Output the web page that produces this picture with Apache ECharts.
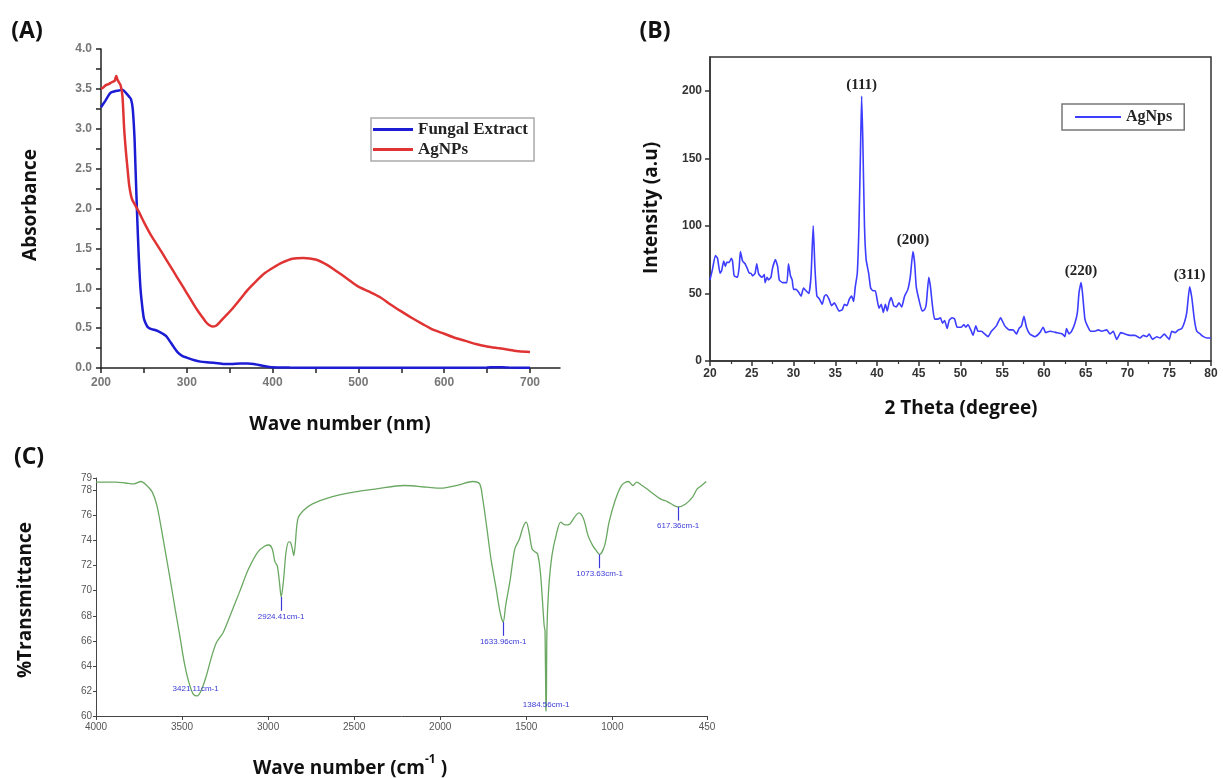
<!DOCTYPE html>
<html><head><meta charset="utf-8">
<script src="https://cdn.jsdelivr.net/npm/echarts@6/dist/echarts.min.js"></script>
<style>html,body{margin:0;padding:0;background:#fff}#c{width:1223px;height:778px}</style>
</head><body><div id="c"></div>
<script>
// ---------- (A) UV-Vis ----------
const uvFungalX = [200,205,211,216,221,225,229,233,235,237,
  239,240,242,244,246,248,250,252,254,258,
  262,267,272,276,280,285,290,295,300,308,
  316,326,336,345,352,362,371,378,383,390,
  399,420,450,500,550,600,650,660,668,675,700];
const uvFungalY = [3.27,3.35,3.45,3.47,3.48,3.49,3.45,3.40,3.37,3.25,
  2.90,2.58,1.95,1.40,1.00,0.78,0.62,0.56,0.52,0.49,
  0.48,0.46,0.43,0.40,0.34,0.26,0.19,0.15,0.13,0.10,
  0.08,0.07,0.06,0.05,0.05,0.055,0.055,0.05,0.04,0.025,
  0.01,0.005,0.003,0.003,0.003,0.003,0.006,0.01,0.01,0.005,0.004];
const uvAgX = [200,203,206,209,212,214,216,217,218,219,
  221,223,225,227,229,231,233,236,240,244,
  250,258,265,272,280,288,296,304,312,318,
  322,326,330,334,338,345,352,362,371,381,
  391,401,411,423,436,450,464,475,487,500,
  512,525,537,550,562,575,587,600,612,625,
  637,650,662,675,687,700];
const uvAgY = [3.50,3.52,3.55,3.56,3.58,3.59,3.60,3.64,3.66,3.62,
  3.58,3.54,3.41,3.00,2.72,2.49,2.28,2.12,2.04,1.96,
  1.83,1.67,1.55,1.43,1.29,1.15,1.01,0.87,0.73,0.64,
  0.58,0.54,0.52,0.53,0.57,0.65,0.73,0.86,0.98,1.09,
  1.19,1.26,1.32,1.37,1.38,1.36,1.29,1.21,1.12,1.02,
  0.96,0.89,0.80,0.71,0.63,0.55,0.48,0.43,0.38,0.34,
  0.30,0.27,0.25,0.23,0.21,0.20];
const uvXLabels = [200,300,400,500,600,700];
const uvXTicks = [200,250,300,350,400,450,500,550,600,650,700];
const uvYTicks = [0,0.25,0.5,0.75,1,1.25,1.5,1.75,2,2.25,2.5,2.75,3,3.25,3.5,3.75,4];
const uvYLabels = [0,0.5,1,1.5,2,2.5,3,3.5,4];

// ---------- (B) XRD ----------
const xrdTheta = [20.0,20.3,20.64,20.9,21.2,21.4,21.64,21.84,22.0,22.3,
  22.56,22.7,22.9,23.3,23.5,23.64,23.9,24.2,24.5,24.7,
  24.9,25.1,25.4,25.6,25.8,26.0,26.24,26.5,26.6,26.84,
  27.0,27.3,27.5,27.84,28.1,28.3,28.7,29.2,29.4,29.64,
  29.84,30.0,30.3,30.6,30.9,31.2,31.5,31.84,32.1,32.36,
  32.56,32.8,33.1,33.44,33.7,33.9,34.24,34.56,34.9,35.1,
  35.44,35.84,36.1,36.4,36.7,36.96,37.2,37.4,37.64,37.84,
  38.04,38.16,38.3,38.5,38.7,39.0,39.24,39.5,39.8,40.0,
  40.24,40.5,40.76,41.0,41.24,41.44,41.7,42.0,42.3,42.64,
  42.96,43.3,43.7,44.0,44.3,44.5,44.7,45.0,45.4,45.7,
  45.9,46.2,46.4,46.64,46.9,47.3,47.6,47.84,48.1,48.4,
  48.64,49.0,49.3,49.6,50.1,50.4,50.64,50.9,51.3,51.5,
  51.84,52.1,52.5,52.9,53.3,53.7,54.3,54.8,55.3,55.84,
  56.3,56.7,57.0,57.3,57.6,57.9,58.3,58.9,59.5,59.9,
  60.2,60.7,61.5,62.2,62.5,62.7,63.0,63.3,63.7,64.0,
  64.2,64.44,64.6,64.9,65.2,65.6,66.1,66.5,66.9,67.5,
  67.9,68.3,68.7,69.2,69.7,70.3,70.9,71.5,71.9,72.3,
  72.6,73.0,73.5,73.9,74.4,74.7,75.0,75.3,75.7,76.1,
  76.5,76.84,77.1,77.44,77.7,78.0,78.3,78.7,79.1,79.5,
  80.0];
const xrdIntensity = [60,68,78,76,65,67,74,70,73,73,
  76,74,63,62,70,81,74,72,68,65,
  65,63,65,72,65,63,62,64,58,62,
  60,62,69,75,70,60,58,58,72,63,
  60,53,53,51,48,54,52,50,63,100,
  70,48,46,42,48,49,46,41,43,41,
  37,38,42,41,46,48,44,55,65,100,
  161,196,164,100,75,65,54,52,52,46,
  39,42,36,42,37,43,47,41,40,43,
  40,48,53,63,81,73,55,46,37,38,
  42,62,55,41,31,31,32,28,30,24,
  30,32,31,25,25,27,25,27,22,19,
  26,22,22,20,18,22,26,32,26,23,
  23,20,24,26,33,25,20,18,21,25,
  21,22,21,20,18,24,20,22,28,36,
  51,58,51,31,26,22,22,23,22,23,
  20,22,16,21,20,19,19,17,19,18,
  20,16,18,17,20,18,16,22,21,23,
  24,29,36,55,47,31,22,20,18,17,
  17];
const xrdPeakNames = ['(111)','(200)','(220)','(311)'];
const xrdPeakTheta = [38.16,44.3,64.44,77.44];
const xrdPeakIntensity = [196,81,58,55];
const xrdYLabels = [0,50,100,150,200];

// ---------- (C) FTIR ----------
const ftirWn = [4000,3886,3830,3779,3739,3705,3673,3646,3620,3593,
  3566,3540,3513,3487,3460,3434,3412,3386,3359,3327,
  3300,3261,3221,3167,3114,3061,3021,2995,2976,2960,
  2947,2934,2924,2910,2896,2880,2870,2859,2851,2843,
  2827,2795,2742,2636,2503,2370,2210,2077,1998,1891,
  1811,1771,1753,1731,1705,1678,1652,1634,1620,1593,
  1567,1540,1519,1500,1484,1466,1450,1434,1418,1404,
  1396,1391,1386,1384,1380,1370,1351,1327,1300,1274,
  1247,1213,1194,1167,1141,1114,1093,1074,1045,1019,
  987,947,907,880,859,827,774,721,681,641,
  617,574,534,507,481,455];
const ftirT = [78.67,78.67,78.6,78.53,78.72,78.4,77.87,76.8,74.93,72.8,
  70.67,68.53,66.4,64.27,62.67,61.73,61.6,62.13,63.2,64.8,
  65.87,66.67,68.0,69.87,71.73,73.07,73.55,73.65,73.33,72.3,
  72.0,70.67,69.5,70.9,73.07,73.9,73.87,73.33,72.8,73.6,
  75.73,76.4,76.93,77.47,77.87,78.13,78.4,78.27,78.19,78.45,
  78.72,78.53,77.33,75.2,72.53,70.4,68.27,67.5,68.8,70.93,
  73.33,74.13,75.07,75.47,74.67,73.33,73.12,72.93,71.47,68.8,
  67.2,66.8,60.5,60.4,66.8,70.13,72.8,74.4,75.47,75.25,
  75.33,76.0,76.21,75.73,74.4,73.6,73.2,72.9,73.6,75.47,
  77.07,78.4,78.72,78.4,78.67,78.4,77.87,77.33,77.12,76.8,
  76.7,76.93,77.47,78.13,78.4,78.72];
const ftirPeakWn = [3421.11,2924.41,1633.96,1384.56,1073.63,617.36];
const ftirPeakT = [61.6,69.5,67.5,60.4,72.9,76.7];
const ftirPeakNames = ['3421.11cm-1','2924.41cm-1','1633.96cm-1','1384.56cm-1','1073.63cm-1','617.36cm-1'];
const ftirXLabels = [4000,3500,3000,2500,2000,1500,1000,450];
const ftirYLabels = [60,62,64,66,68,70,72,74,76,78,79];

// ---------- build ----------
const zip = (xs, ys) => xs.map((x, i) => [x, ys[i]]);
const stemLen = 1.1;
const hasStem = [false, true, true, false, true, true];
const labelShift = [0.6, -1.55, -1.55, 0.5, -1.55, -1.55];
const titleFont = '"Open Sans", "DejaVu Sans", sans-serif';
const serif = '"Liberation Serif", "Times New Roman", serif';
const blueLbl = '#3a3ad6';
const plain = v => String(v);

const chart = echarts.init(document.getElementById('c'));
const option = {
  animation: false,
  backgroundColor: '#fff',
  grid: [
    {left: 101, top: 49, width: 459, height: 319},
    {left: 710, top: 57, width: 501, height: 304, show: true, borderColor: '#333', borderWidth: 1.5},
    {left: 96, top: 478, width: 611, height: 238}
  ],
  xAxis: [
    {gridIndex: 0, type: 'value', min: 200, max: 735,
      axisLine: {lineStyle: {color: '#222', width: 1.5}},
      axisTick: {customValues: uvXTicks, length: 5, lineStyle: {color: '#222', width: 1.5}},
      axisLabel: {customValues: uvXLabels, color: '#777', fontWeight: 'bold', fontSize: 12, margin: 9, fontFamily: 'Liberation Sans', formatter: plain},
      splitLine: {show: false}},
    {gridIndex: 1, type: 'value', min: 20, max: 80, interval: 5,
      axisLine: {lineStyle: {color: '#333', width: 1.5}},
      axisTick: {length: 5, lineStyle: {color: '#333', width: 1.5}},
      minorTick: {show: true, splitNumber: 2, length: 3, lineStyle: {color: '#333', width: 1.2}},
      axisLabel: {color: '#333', fontWeight: 'bold', fontSize: 12, margin: 7, fontFamily: 'Liberation Sans', formatter: plain},
      splitLine: {show: false}},
    {gridIndex: 2, type: 'value', min: 450, max: 4000, inverse: true,
      axisLine: {lineStyle: {color: '#444', width: 1}},
      axisTick: {customValues: ftirXLabels, length: 4, lineStyle: {color: '#444'}},
      axisLabel: {customValues: ftirXLabels, color: '#555', fontSize: 10, margin: 6, fontFamily: 'Liberation Sans', formatter: plain},
      splitLine: {show: false}}
  ],
  yAxis: [
    {gridIndex: 0, type: 'value', min: 0, max: 4,
      axisLine: {show: true, lineStyle: {color: '#222', width: 1.5}},
      axisTick: {show: true, customValues: uvYTicks, length: 5, lineStyle: {color: '#222', width: 1.5}},
      axisLabel: {customValues: uvYLabels, color: '#777', fontWeight: 'bold', fontSize: 12, margin: 9, fontFamily: 'Liberation Sans',
        formatter: v => Number(v).toFixed(1)},
      splitLine: {show: false}},
    {gridIndex: 1, type: 'value', min: 0, max: 225,
      axisLine: {show: true, lineStyle: {color: '#333', width: 1.5}},
      axisTick: {show: true, customValues: xrdYLabels, length: 5, lineStyle: {color: '#333', width: 1.5}},
      axisLabel: {customValues: xrdYLabels, color: '#333', fontWeight: 'bold', fontSize: 12, margin: 8, fontFamily: 'Liberation Sans', formatter: plain},
      splitLine: {show: false}},
    {gridIndex: 2, type: 'value', min: 60, max: 79,
      axisLine: {show: true, lineStyle: {color: '#444', width: 1}},
      axisTick: {show: true, customValues: ftirYLabels, length: 3, lineStyle: {color: '#444'}},
      axisLabel: {customValues: ftirYLabels, color: '#555', fontSize: 10, margin: 4, fontFamily: 'Liberation Sans', formatter: plain},
      splitLine: {show: false}}
  ],
  legend: [
    {data: ['Fungal Extract', 'AgNPs'], orient: 'vertical', left: 371, top: 118,
      icon: 'rect', itemWidth: 40, itemHeight: 3, itemGap: 3, padding: [3, 6, 3, 2],
      borderColor: '#aaa', borderWidth: 1.5,
      textStyle: {fontFamily: serif, fontWeight: 'bold', fontSize: 17, lineHeight: 17, color: '#222'}},
    {data: ['AgNps'], orient: 'vertical', left: 1062, top: 104,
      icon: 'rect', itemWidth: 46, itemHeight: 2, padding: [5, 12, 5, 13],
      borderColor: '#777', borderWidth: 1.5,
      textStyle: {fontFamily: serif, fontWeight: 'bold', fontSize: 16, color: '#222'}}
  ],
  series: [
    {name: 'Fungal Extract', type: 'line', xAxisIndex: 0, yAxisIndex: 0, data: zip(uvFungalX, uvFungalY),
      symbol: 'none', smooth: 0.25, color: '#1c1cd4', lineStyle: {width: 2.5, color: '#1c1cd4'}},
    {name: 'AgNPs', type: 'line', xAxisIndex: 0, yAxisIndex: 0, data: zip(uvAgX, uvAgY),
      symbol: 'none', smooth: 0.25, color: '#e03434', lineStyle: {width: 2.5, color: '#e03434'}},
    {name: 'AgNps', type: 'line', xAxisIndex: 1, yAxisIndex: 1, data: zip(xrdTheta, xrdIntensity),
      symbol: 'none', smooth: 0.15, color: '#3d3dff', lineStyle: {width: 1.6, color: '#3d3dff'},
      markPoint: {symbol: 'circle', symbolSize: 0, silent: true,
        data: xrdPeakNames.map((n, i) => ({name: n, coord: [xrdPeakTheta[i], xrdPeakIntensity[i]]})),
        label: {show: true, position: 'top', distance: 4, formatter: '{b}', fontFamily: serif,
          fontWeight: 'bold', fontSize: 15, color: '#222'}}},
    {name: 'FTIR', type: 'line', xAxisIndex: 2, yAxisIndex: 2, data: zip(ftirWn, ftirT),
      symbol: 'none', smooth: 0.3, color: '#6aa862', lineStyle: {width: 1.3, color: '#6aa862'},
      markLine: {silent: true, symbol: ['none', 'none'], label: {show: false},
        lineStyle: {color: blueLbl, width: 1.2, type: 'solid'},
        data: ftirPeakWn.map((w, i) => hasStem[i] ? [{coord: [w, ftirPeakT[i]]}, {coord: [w, ftirPeakT[i] - stemLen]}] : null).filter(Boolean)},
      markPoint: {symbol: 'circle', symbolSize: 0, silent: true,
        data: ftirPeakNames.map((n, i) => ({name: n, coord: [ftirPeakWn[i], ftirPeakT[i] + labelShift[i]]})),
        label: {show: true, position: 'inside', formatter: '{b}', fontFamily: 'Liberation Sans',
          fontSize: 8, color: blueLbl}}}
  ],
  graphic: [
    {type: 'text', x: 27, y: 31, style: {text: '(A)', font: 'bold 23px ' + titleFont, fill: '#111', align: 'center', verticalAlign: 'middle', textAlign: 'center', textVerticalAlign: 'middle'}},
    {type: 'text', x: 655, y: 31, style: {text: '(B)', font: 'bold 23px ' + titleFont, fill: '#111', align: 'center', verticalAlign: 'middle', textAlign: 'center', textVerticalAlign: 'middle'}},
    {type: 'text', x: 29, y: 457, style: {text: '(C)', font: 'bold 23px ' + titleFont, fill: '#111', align: 'center', verticalAlign: 'middle', textAlign: 'center', textVerticalAlign: 'middle'}},
    {type: 'text', x: 31, y: 205, rotation: Math.PI / 2, style: {text: 'Absorbance', font: 'bold 19px ' + titleFont, fill: '#111', align: 'center', verticalAlign: 'middle', textAlign: 'center', textVerticalAlign: 'middle'}},
    {type: 'text', x: 340, y: 425, style: {text: 'Wave number (nm)', font: 'bold 19px ' + titleFont, fill: '#111', align: 'center', verticalAlign: 'middle', textAlign: 'center', textVerticalAlign: 'middle'}},
    {type: 'text', x: 652, y: 208, rotation: Math.PI / 2, style: {text: 'Intensity (a.u)', font: 'bold 19px ' + titleFont, fill: '#111', align: 'center', verticalAlign: 'middle', textAlign: 'center', textVerticalAlign: 'middle'}},
    {type: 'text', x: 961, y: 409, style: {text: '2 Theta (degree)', font: 'bold 19px ' + titleFont, fill: '#111', align: 'center', verticalAlign: 'middle', textAlign: 'center', textVerticalAlign: 'middle'}},
    {type: 'text', x: 26, y: 600, rotation: Math.PI / 2, style: {text: '%Transmittance', font: 'bold 19px ' + titleFont, fill: '#111', align: 'center', verticalAlign: 'middle', textAlign: 'center', textVerticalAlign: 'middle'}},
    {type: 'text', x: 350, y: 766, style: {text: '{a|Wave number (cm}{s|-1}{a| )}', align: 'center', verticalAlign: 'middle', textAlign: 'center', textVerticalAlign: 'middle',
      rich: {a: {font: 'bold 19px ' + titleFont, fill: '#111', lineHeight: 24, verticalAlign: 'bottom'},
             s: {font: 'bold 12px ' + titleFont, fill: '#111', lineHeight: 24, verticalAlign: 'top'}}}}
  ]
};
chart.setOption(option);
</script>
</body></html>
